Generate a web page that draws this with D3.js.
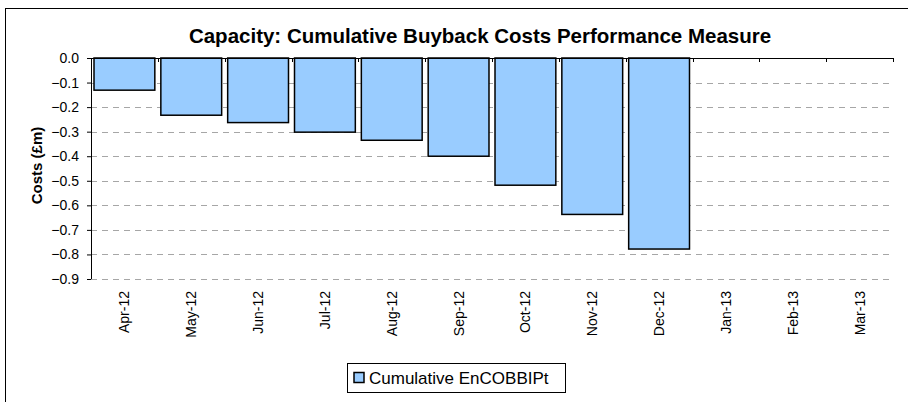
<!DOCTYPE html>
<html>
<head>
<meta charset="utf-8">
<script src="https://cdn.jsdelivr.net/npm/d3@7"></script>
<style>
  body { margin: 0; background: #fff; }
  svg { display: block; font-family: "Liberation Sans", Arial, sans-serif; }
</style>
</head>
<body>
<div id="chart"></div>
<script>
// Data
var months = ["Apr-12", "May-12", "Jun-12", "Jul-12", "Aug-12", "Sep-12",
              "Oct-12", "Nov-12", "Dec-12", "Jan-13", "Feb-13", "Mar-13"];
var costs = [-0.131, -0.233, -0.263, -0.302, -0.335, -0.400,
             -0.518, -0.637, -0.778, null, null, null];
var yTicks = [0, -0.1, -0.2, -0.3, -0.4, -0.5, -0.6, -0.7, -0.8, -0.9];
var seriesName = "Cumulative EnCOBBIPt";
var title = "Capacity: Cumulative Buyback Costs Performance Measure";
var yLabel = "Costs (£m)";

var W = 908, H = 402;
var margin = { top: 58, right: 15, bottom: 123, left: 91 };
var width = W - margin.left - margin.right;
var height = H - margin.top - margin.bottom;

var svg = d3.select("#chart").append("svg")
  .attr("width", W)
  .attr("height", H);

// outer chart frame
svg.append("rect")
  .attr("x", 5.5).attr("y", 8.5)
  .attr("width", W).attr("height", H)
  .attr("fill", "none")
  .attr("stroke", "#000")
  .attr("stroke-width", 1);

var xScale = d3.scaleBand()
  .domain(months)
  .range([0, width])
  .paddingInner(0.09)
  .paddingOuter(0.045);

var xEdge = d3.scaleLinear().domain([0, months.length]).range([0, width]);

var yScale = d3.scaleLinear()
  .domain([-0.9, 0])
  .range([height, 0]);

var g = svg.append("g")
  .attr("transform", "translate(" + margin.left + "," + margin.top + ")");

// dashed gridlines
g.selectAll("line.grid")
  .data(yTicks.filter(function(d) { return d !== 0; }))
  .enter()
  .append("line")
  .attr("class", "grid")
  .attr("x1", 0).attr("x2", width)
  .attr("y1", function(d) { return Math.round(yScale(d)) + 0.5; })
  .attr("y2", function(d) { return Math.round(yScale(d)) + 0.5; })
  .attr("stroke", "#a6a6a6")
  .attr("stroke-dasharray", "6,5");

// bars
g.selectAll("rect.bar")
  .data(months.map(function(m, i) { return { m: m, v: costs[i] }; })
    .filter(function(d) { return d.v !== null; }))
  .enter()
  .append("rect")
  .attr("class", "bar")
  .attr("x", function(d) { return xScale(d.m); })
  .attr("y", yScale(0))
  .attr("width", xScale.bandwidth())
  .attr("height", function(d) { return yScale(d.v) - yScale(0); })
  .attr("fill", "#99ccff")
  .attr("stroke", "#000")
  .attr("stroke-width", 1.5);

// y axis
var yAxis = d3.axisLeft(yScale)
  .tickValues(yTicks)
  .tickSize(4)
  .tickPadding(8)
  .tickFormat(d3.format(".1f"));

var ya = g.append("g").call(yAxis);
ya.select(".domain").attr("d", "M0.5,0V" + height);
ya.selectAll(".tick line").attr("stroke", "#000");
ya.selectAll("text")
  .attr("font-size", 14)
  .attr("fill", "#000")
  .attr("font-family", "Liberation Sans, Arial, sans-serif");

// x axis at value 0 (top), ticks on category boundaries
g.append("line")
  .attr("x1", 0).attr("x2", width)
  .attr("y1", 0.5).attr("y2", 0.5)
  .attr("stroke", "#000");

g.selectAll("line.xtick")
  .data(d3.range(1, months.length + 1))
  .enter()
  .append("line")
  .attr("class", "xtick")
  .attr("x1", function(i) { return Math.round(xEdge(i)) + 0.5; })
  .attr("x2", function(i) { return Math.round(xEdge(i)) + 0.5; })
  .attr("y1", 0).attr("y2", 4)
  .attr("stroke", "#000");

// x labels, rotated, below the plot
g.selectAll("text.xlab")
  .data(months)
  .enter()
  .append("text")
  .attr("class", "xlab")
  .attr("transform", function(d) {
    return "translate(" + (xScale(d) + xScale.bandwidth() / 2 + 5) + "," + (height + 12) + ") rotate(-90)";
  })
  .attr("text-anchor", "end")
  .attr("font-size", 14)
  .text(function(d) { return d; });

// title
svg.append("text")
  .attr("x", 480)
  .attr("y", 43)
  .attr("text-anchor", "middle")
  .attr("font-size", 20.5)
  .attr("font-weight", "bold")
  .text(title);

// y axis label
svg.append("text")
  .attr("transform", "translate(42," + (margin.top + height / 2 - 3) + ") rotate(-90)")
  .attr("text-anchor", "middle")
  .attr("font-size", 15)
  .attr("font-weight", "bold")
  .text(yLabel);

// legend
var legend = svg.append("g").attr("transform", "translate(347,363)");
legend.append("rect")
  .attr("x", 0.5).attr("y", 0.5)
  .attr("width", 218).attr("height", 29)
  .attr("fill", "#fff")
  .attr("stroke", "#000");
legend.append("rect")
  .attr("x", 7).attr("y", 9.5)
  .attr("width", 10).attr("height", 10)
  .attr("fill", "#99ccff")
  .attr("stroke", "#000")
  .attr("stroke-width", 1.5);
legend.append("text")
  .attr("x", 22)
  .attr("y", 21)
  .attr("font-size", 17)
  .text(seriesName);
</script>
</body>
</html>
